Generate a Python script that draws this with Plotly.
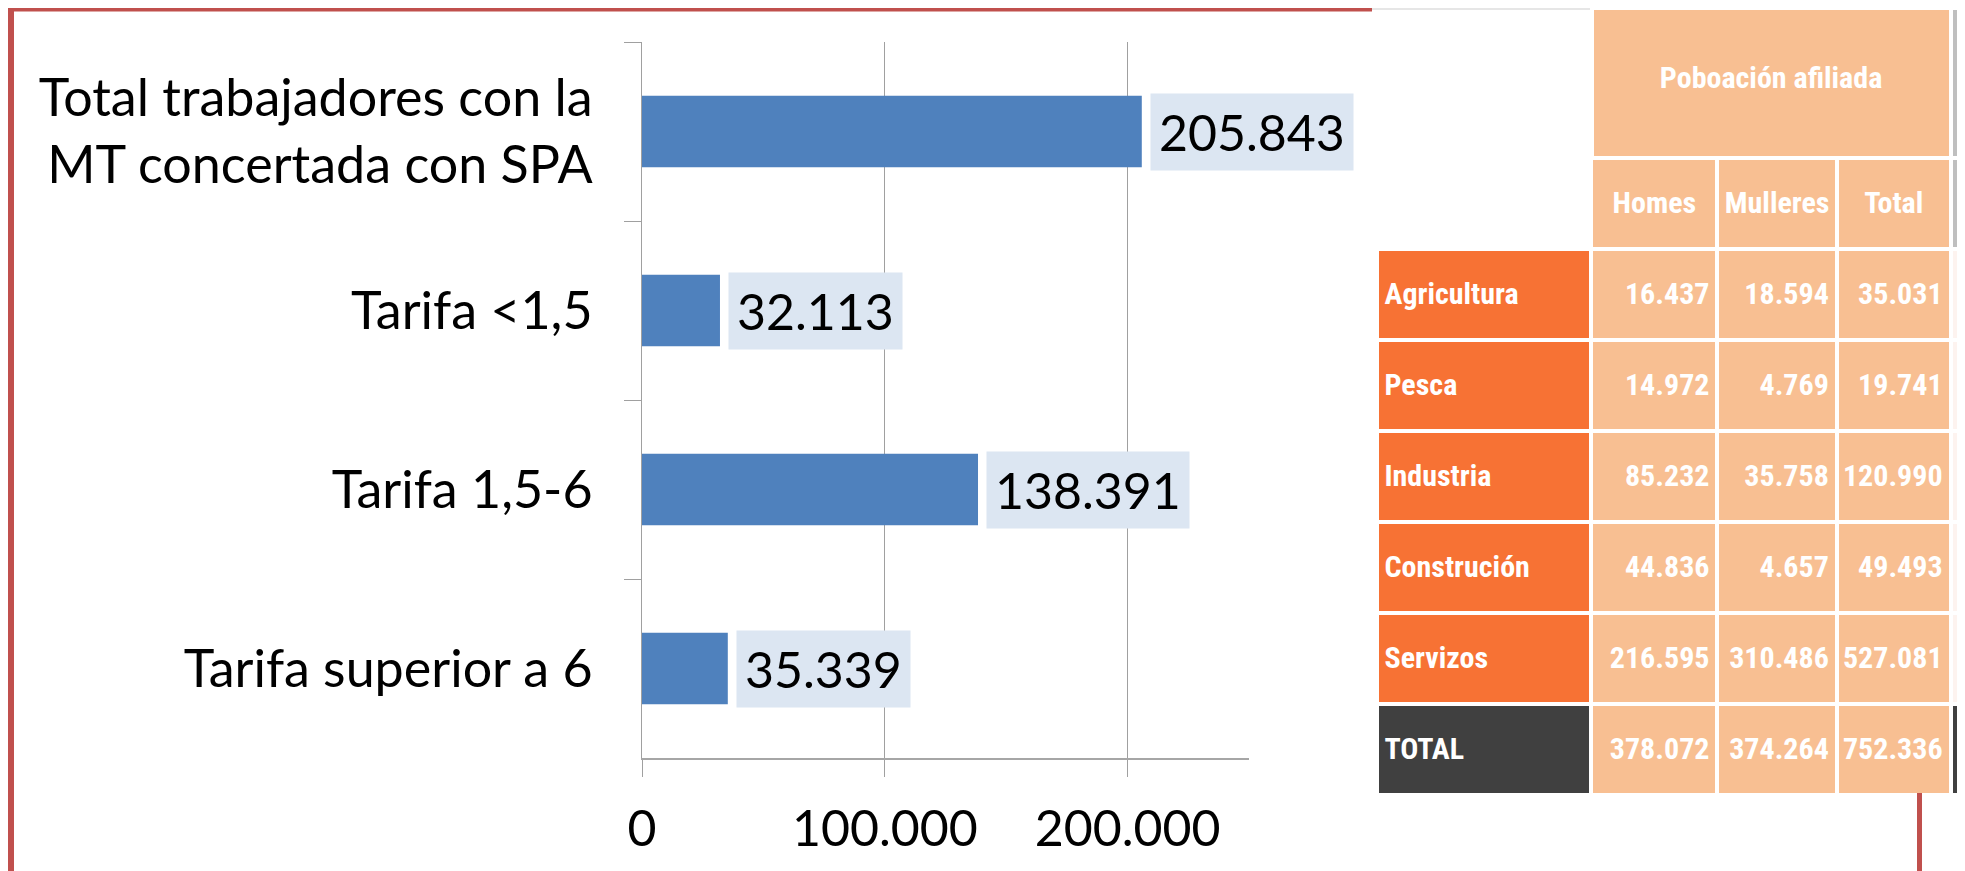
import plotly.graph_objects as go

# page body has an 8px margin: the figure is sized/offset so that it fills the 1965x871 window
OFF = 8
W, H = 1965 - OFF, 871 - OFF

# ---------------- data ----------------
tarifa_categorias = [
    "Total trabajadores con la<br>MT concertada con SPA",
    "Tarifa <1,5",
    "Tarifa 1,5-6",
    "Tarifa superior a 6",
]
tarifa_valores = [205843, 32113, 138391, 35339]
x_tickvals = [0, 100000, 200000]
x_ticktext = ["0", "100.000", "200.000"]

tabla_titulo = "Poboación afiliada"
tabla_columnas = ["Homes", "Mulleres", "Total"]
sectores = ["Agricultura", "Pesca", "Industria", "Construción", "Servizos", "TOTAL"]
homes = [16437, 14972, 85232, 44836, 216595, 378072]
mulleres = [18594, 4769, 35758, 4657, 310486, 374264]
totais = [35031, 19741, 120990, 49493, 527081, 752336]


def fmt(v):
    return f"{v:,}".replace(",", ".")


# ---------------- styles ----------------
BAR = "#4f81bd"
LABEL_BG = "#dce6f2"
ORANGE = "#f77234"
LIGHT = "#f8bf92"
DARK = "#404040"
GRID = "#a0a0a0"
RED = "#c0504d"
CLEAR = "rgba(0,0,0,0)"
FONT = "Lato, Calibri, Carlito, sans-serif"
TFONT = "'Liberation Sans Narrow', 'Arial Narrow', 'Roboto Condensed', 'DejaVu Sans Condensed', sans-serif"
TFONT_D = dict(family=TFONT, size=30, color="white", weight="bold")


def px(x):
    # window pixel -> paper fraction
    return (x - OFF) / W


def py(y):
    return min(1.0, 1 - (y - OFF) / H)


fig = go.Figure()

fig.add_trace(go.Bar(
    x=tarifa_valores,
    y=tarifa_categorias,
    orientation="h",
    marker=dict(color=BAR, line=dict(width=0)),
    hoverinfo="skip",
    showlegend=False,
))

for v, c in zip(tarifa_valores, tarifa_categorias):
    fig.add_annotation(
        x=v, y=c, xref="x", yref="y",
        text=fmt(v), showarrow=False,
        xanchor="left", yanchor="middle", xshift=8,
        bgcolor=LABEL_BG, borderpad=8,
        font=dict(family=FONT, size=50, color="#000000"),
    )

# ---------------- table ----------------
n = len(sectores)
top_x = [px(1591.5), px(1961)]
top_w = [359.6, 9.9]
main_x = [px(1376.5), px(1961)]
main_w = [215, 126.25, 119.5, 113.85, 9.9]
TOP_Y0, MAIN_Y0 = 8, 157.5
TOP_SHIFT, MAIN_SHIFT = 49, 25

# merged "Poboación afiliada" header cell: fills
fig.add_trace(go.Table(
    domain=dict(x=top_x, y=[py(600), py(TOP_Y0)]),
    columnwidth=top_w,
    header=dict(values=["", ""], height=MAIN_Y0 - TOP_Y0,
                fill=dict(color=[LIGHT, "#bfbfbf"]),
                line=dict(color="white", width=4), font=TFONT_D),
    cells=dict(values=[[], []], height=1, line=dict(width=0)),
))
# its text
fig.add_trace(go.Table(
    domain=dict(x=top_x, y=[py(600), py(TOP_Y0 + TOP_SHIFT)]),
    columnwidth=top_w,
    header=dict(values=[tabla_titulo, ""], height=100,
                fill=dict(color=CLEAR), line=dict(width=0),
                align="center", font=TFONT_D),
    cells=dict(values=[[], []], height=1, line=dict(width=0)),
))

fill_cols = [
    [ORANGE] * (n - 1) + [DARK],
    [LIGHT] * n,
    [LIGHT] * n,
    [LIGHT] * n,
    ["#fdf3ef"] * (n - 1) + [DARK],
]

# main table: fills
fig.add_trace(go.Table(
    domain=dict(x=main_x, y=[py(860), py(MAIN_Y0)]),
    columnwidth=main_w,
    header=dict(values=[""] * 5, height=91,
                fill=dict(color=["white", LIGHT, LIGHT, LIGHT, "#bfbfbf"]),
                line=dict(color="white", width=4), font=TFONT_D),
    cells=dict(values=[[""] * n] * 5, height=91,
               fill=dict(color=fill_cols),
               line=dict(color="white", width=4), font=TFONT_D),
))
# main table: text
fig.add_trace(go.Table(
    domain=dict(x=main_x, y=[py(860), py(MAIN_Y0 + MAIN_SHIFT)]),
    columnwidth=main_w,
    header=dict(values=[""] + tabla_columnas + [""], height=91,
                fill=dict(color=CLEAR), line=dict(width=0),
                align="center", font=TFONT_D),
    cells=dict(
        values=[sectores, [fmt(v) for v in homes], [fmt(v) for v in mulleres],
                [fmt(v) for v in totais], [""] * n],
        height=91,
        fill=dict(color=CLEAR), line=dict(width=0),
        align=["left", "right", "right", "right", "right"],
        font=TFONT_D,
    ),
))

# ---------------- decorations ----------------
shapes = [
    dict(type="rect", xref="paper", yref="paper", x0=px(1372), x1=1, y0=py(10), y1=1,
         fillcolor="#e6e6e6", line=dict(width=0), layer="below"),
    dict(type="path", xref="paper", yref="paper",
         path=f"M {px(11)} {-0.05} L {px(11)} {1 - (8.5 - OFF) / H} L {px(1372)} {1 - (8.5 - OFF) / H}",
         line=dict(color=RED, width=6)),
    dict(type="line", xref="paper", yref="paper", x0=px(1919.5), x1=px(1919.5), y0=py(793), y1=-0.05,
         line=dict(color=RED, width=5)),
]

fig.update_layout(
    width=W, height=H,
    margin=dict(l=0, r=0, t=0, b=0, autoexpand=False),
    paper_bgcolor="white", plot_bgcolor="white",
    bargap=0.6,
    shapes=shapes,
    font=dict(family=FONT, size=50, color="#000000"),
    xaxis=dict(
        domain=[px(642), px(1249)],
        range=[0, 250000],
        automargin=False,
        tickmode="array", tickvals=x_tickvals, ticktext=x_ticktext,
        showgrid=True, gridcolor=GRID, gridwidth=1,
        zeroline=False,
        showline=True, linecolor="#a6a6a6", linewidth=2,
        ticks="outside", ticklen=17, tickcolor=GRID, tickwidth=1,
        ticklabelstandoff=9,
        tickfont=dict(family=FONT, size=50, color="#000000"),
        fixedrange=True,
    ),
    yaxis=dict(
        domain=[py(758), py(42)],
        type="category",
        automargin=False,
        categoryorder="array", categoryarray=tarifa_categorias,
        autorange="reversed",
        tickson="boundaries",
        ticks="outside", ticklen=17, tickcolor=GRID, tickwidth=1,
        ticklabelstandoff=38,
        showline=True, linecolor=GRID, linewidth=1,
        showgrid=False, zeroline=False,
        tickfont=dict(family=FONT, size=52, color="#000000"),
        fixedrange=True,
    ),
)

fig.write_html("out.html")
